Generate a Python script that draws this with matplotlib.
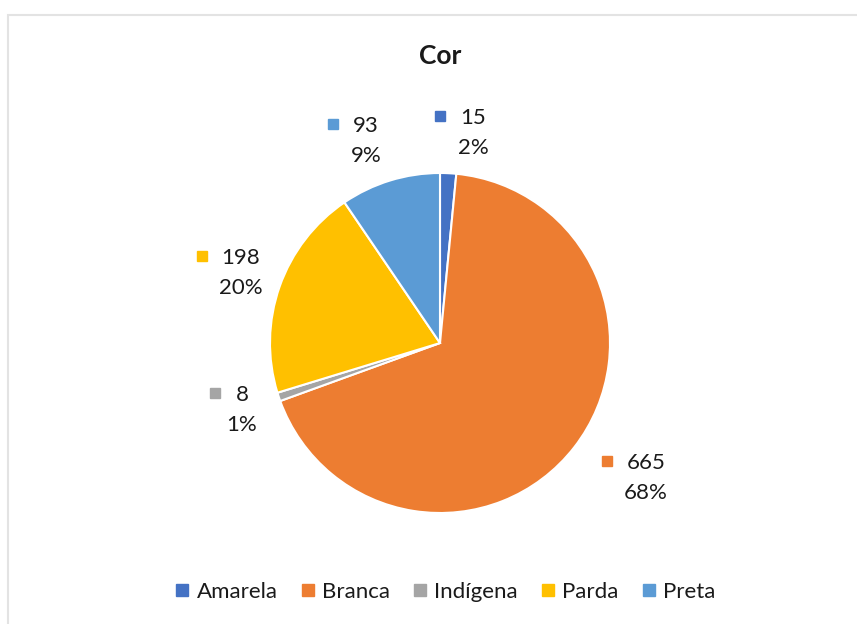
import matplotlib.pyplot as plt
from matplotlib.patches import Rectangle
from matplotlib.lines import Line2D

plt.rcParams["font.family"] = ["Lato", "DejaVu Sans"]

# data
categories = ["Amarela", "Branca", "Indígena", "Parda", "Preta"]
counts = [15, 665, 8, 198, 93]
percents = ["2%", "68%", "1%", "20%", "9%"]
colors = ["#4472C4", "#ED7D31", "#A5A5A5", "#FFC000", "#5B9BD5"]

# layout (pixel space, y up)
W, H = 857, 624
CENTER = (440, H - 343)
RADIUS = 170
# label block centres (Excel "best fit" positions)
label_pos = [(473, H - 133), (646, H - 478), (242, H - 410), (241, H - 273), (366, H - 141)]
TEXT_COLOR = "#1a1a1a"
FS = 16

fig = plt.figure(figsize=(W / 100, H / 100), dpi=100)
ax = fig.add_axes([0, 0, 1, 1])
ax.set_xlim(0, W)
ax.set_ylim(0, H)
ax.axis("off")

# chart area border
ax.add_patch(Rectangle((8, -10), W, H - 15 + 10, fill=False,
                       edgecolor="#E3E3E3", linewidth=1.5))

wedges, _ = ax.pie(counts, colors=colors, startangle=90, counterclock=False,
                   center=CENTER, radius=RADIUS,
                   wedgeprops=dict(edgecolor="white", linewidth=1.5))
ax.set_xlim(0, W)
ax.set_ylim(0, H)
ax.set_aspect("equal")

ax.text(440, H - 56, "Cor", ha="center", va="center", fontsize=19,
        fontweight="bold", color=TEXT_COLOR)

fig.canvas.draw()
renderer = fig.canvas.get_renderer()
for (cx, cy), n, p, c in zip(label_pos, counts, percents, colors):
    t1 = ax.text(cx, cy + 15, str(n), ha="center", va="center",
                 fontsize=FS, color=TEXT_COLOR)
    ax.text(cx, cy - 15, p, ha="center", va="center", fontsize=FS, color=TEXT_COLOR)
    bb = t1.get_window_extent(renderer)
    ax.plot([bb.x0 - 20], [cy + 17], marker="s", markersize=7.5,
            color=c, linestyle="none")

handles = [Line2D([], [], marker="s", linestyle="none", markersize=8.5,
                  color=c) for c in colors]
leg = ax.legend(handles, categories, loc="center", bbox_to_anchor=(445 / W, (H - 592) / H),
                bbox_transform=fig.transFigure, ncol=5, frameon=False,
                fontsize=FS, handlelength=0.7, handletextpad=0.3,
                columnspacing=1.0, labelcolor=TEXT_COLOR)

fig.savefig("out.png", dpi=100, facecolor="white")
